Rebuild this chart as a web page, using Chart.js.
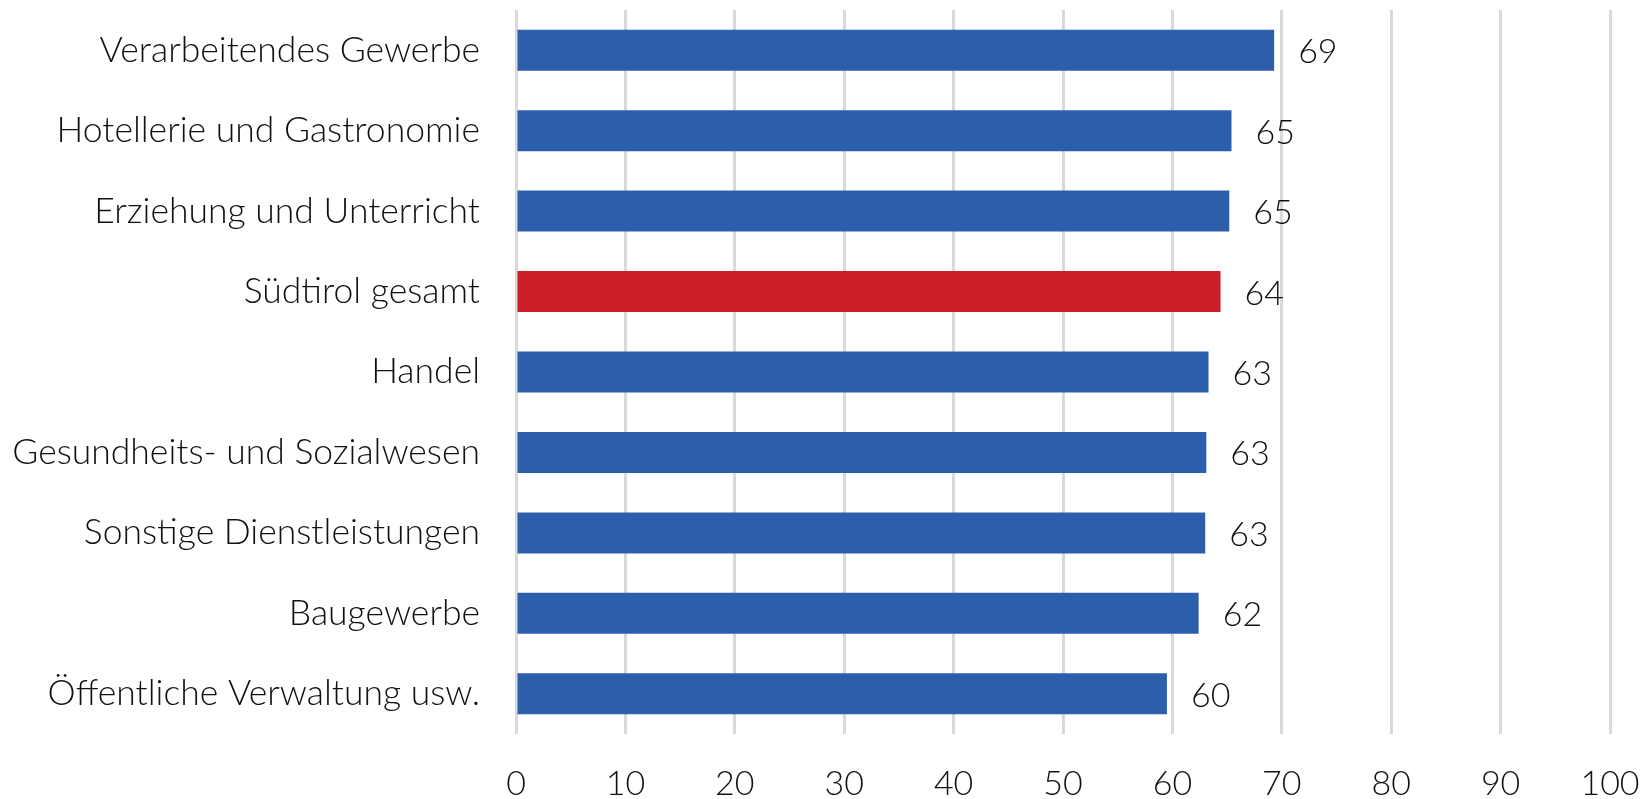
<!DOCTYPE html>
<html>
<head>
<meta charset="utf-8">
<style>
  html, body { margin: 0; padding: 0; background: #fff; }
  #wrap { width: 1642px; height: 799px; }
</style>
<script src="https://cdn.jsdelivr.net/npm/chart.js@4/dist/chart.umd.min.js"></script>
</head>
<body>
<div id="wrap"><canvas id="sectorChart"></canvas></div>
<script>
// Sektoren (von oben nach unten)
const categories = [
  "Verarbeitendes Gewerbe",
  "Hotellerie und Gastronomie",
  "Erziehung und Unterricht",
  "Südtirol gesamt",
  "Handel",
  "Gesundheits- und Sozialwesen",
  "Sonstige Dienstleistungen",
  "Baugewerbe",
  "Öffentliche Verwaltung usw."
];
const values = [69.3, 65.4, 65.2, 64.4, 63.3, 63.1, 63.0, 62.4, 59.5];
const xTicks = [0, 10, 20, 30, 40, 50, 60, 70, 80, 90, 100];

const BLUE = "#2D5EAB";
const RED = "#CD1F29";
const barColors = categories.map(c => c === "Südtirol gesamt" ? RED : BLUE);

const FONT = { family: "Lato", weight: "300", size: 34 };
const CAT_FONT = { family: "Lato", weight: "300", size: 35.5 };

// value labels right of each bar
const valueLabels = {
  id: "valueLabels",
  afterDatasetsDraw(chart) {
    const ctx = chart.ctx;
    const meta = chart.getDatasetMeta(0);
    ctx.save();
    ctx.font = `${FONT.weight} ${FONT.size}px ${FONT.family}`;
    ctx.fillStyle = "#111";
    ctx.textAlign = "left";
    ctx.textBaseline = "middle";
    meta.data.forEach((bar, i) => {
      ctx.fillText(Math.round(values[i]).toString(), bar.x + 24, bar.y + 2);
    });
    ctx.restore();
  }
};

new Chart(document.getElementById("sectorChart"), {
  type: "bar",
  data: {
    labels: categories,
    datasets: [{
      data: values,
      backgroundColor: barColors,
      categoryPercentage: 1,
      barPercentage: 0.51
    }]
  },
  options: {
    indexAxis: "y",
    responsive: true,
    maintainAspectRatio: false,
    animation: false,
    layout: { padding: { top: 10, right: 32, left: 0, bottom: 0 } },
    plugins: { legend: { display: false }, tooltip: { enabled: false } },
    scales: {
      x: {
        min: 0,
        max: 100,
        afterBuildTicks(scale) { scale.ticks = xTicks.map(v => ({ value: v })); },
        afterFit(scale) {
          scale.height = 65;
          scale.paddingLeft = 0;
          scale.paddingRight = 0;
        },
        grid: { color: "#D9D9D9", lineWidth: 3, drawTicks: false },
        border: { display: false },
        ticks: { color: "#111", font: FONT, padding: 30 }
      },
      y: {
        afterFit(scale) {
          scale.width = 516;
          scale.paddingTop = 0;
          scale.paddingBottom = 0;
        },
        grid: { display: false },
        border: { display: false },
        ticks: { color: "#111", font: CAT_FONT, padding: 28 }
      }
    }
  },
  plugins: [valueLabels]
});
</script>
</body>
</html>
